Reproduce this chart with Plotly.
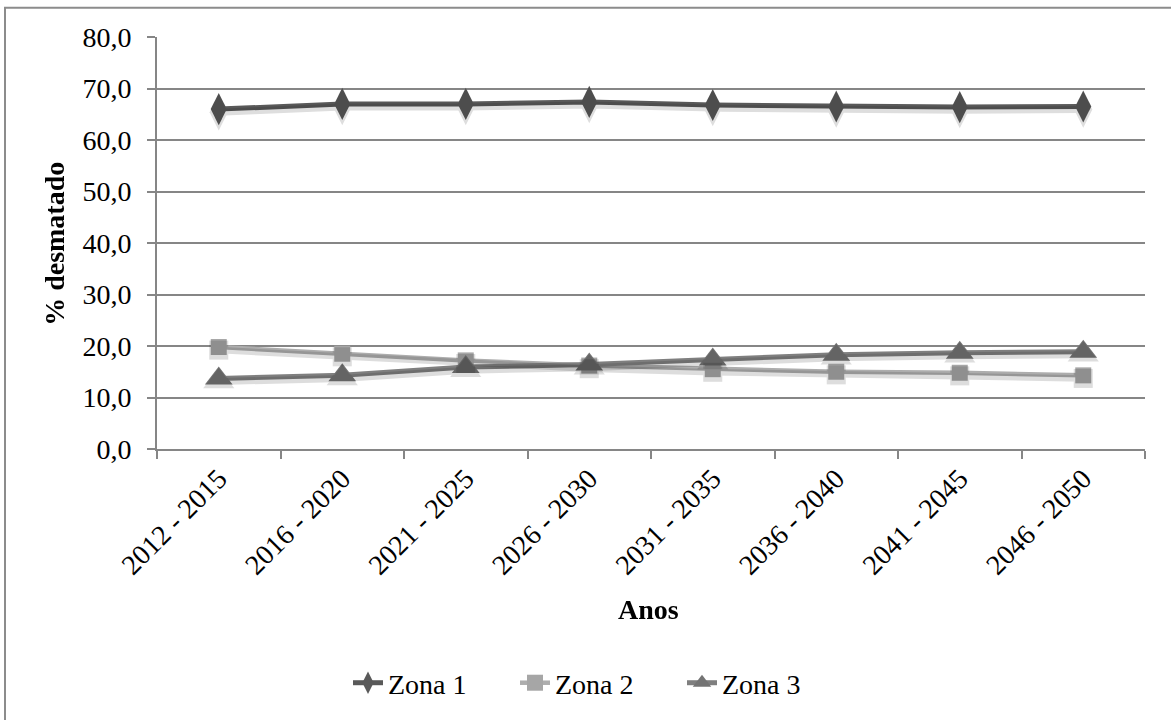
import plotly.graph_objects as go

# Períodos e percentagem de área desmatada por zona
periodos = ["2012 - 2015", "2016 - 2020", "2021 - 2025", "2026 - 2030",
            "2031 - 2035", "2036 - 2040", "2041 - 2045", "2046 - 2050"]
zona1 = [66.0, 67.0, 67.0, 67.4, 66.8, 66.5, 66.4, 66.5]
zona2 = [19.8, 18.5, 17.2, 16.2, 15.5, 15.0, 14.8, 14.3]
zona3 = [13.7, 14.3, 15.9, 16.4, 17.4, 18.3, 18.7, 18.9]
y_ticks = [0, 10, 20, 30, 40, 50, 60, 70, 80]
y_tick_text = ["0,0", "10,0", "20,0", "30,0", "40,0", "50,0", "60,0", "70,0", "80,0"]

FONT = "Liberation Serif"
GRID = "#868686"
Y_RANGE = [0, 80]
# small downward offset (in data units) for the soft drop shadow
SHADOW_DY = 0.6

series = [
    ("Zona 1", zona1, "#595959", "#595959", "diamond-tall", 23, 5),
    ("Zona 2", zona2, "#adadad", "#a6a6a6", "square", 16, 4.5),
    ("Zona 3", zona3, "#7f7f7f", "#747474", "triangle-up", 24, 5),
]

fig = go.Figure()

# drop shadows drawn on an overlaid axis whose range is shifted slightly
for name, vals, lc, mc, sym, ms, lw in series:
    fig.add_trace(go.Scatter(
        x=periodos, y=vals, mode="lines+markers", showlegend=False, hoverinfo="skip",
        yaxis="y2", opacity=0.13,
        line=dict(color="#000000", width=lw + 2),
        marker=dict(symbol=sym, size=ms + 3, color="#000000", line=dict(width=0)),
    ))

for name, vals, lc, mc, sym, ms, lw in series:
    fig.add_trace(go.Scatter(
        x=periodos, y=vals, name=name, mode="lines+markers",
        line=dict(color=lc, width=lw),
        marker=dict(symbol=sym, size=ms, color=mc, line=dict(width=0)),
    ))

fig.update_layout(
    width=1171, height=720,
    margin=dict(l=157, r=26, t=37, b=269),
    paper_bgcolor="white", plot_bgcolor="white",
    font=dict(family=FONT, size=28, color="black"),
    showlegend=True,
    legend=dict(orientation="h", x=(348 - 157) / 988, y=-0.568,
                xanchor="left", yanchor="middle",
                font=dict(family=FONT, size=28, color="black"),
                entrywidth=122, entrywidthmode="pixels", tracegroupgap=0),
    xaxis=dict(
        type="category", tickangle=-45, tickson="boundaries",
        showgrid=False, showline=True, linecolor=GRID, linewidth=2,
        ticks="outside", ticklen=8, tickcolor=GRID, tickwidth=2,
        tickfont=dict(family=FONT, size=28, color="black"),
        range=[-0.5, 7.5],
    ),
    yaxis=dict(
        range=Y_RANGE, tickvals=y_ticks, ticktext=y_tick_text,
        showgrid=True, gridcolor=GRID, gridwidth=2,
        showline=True, linecolor=GRID, linewidth=2,
        ticks="outside", ticklen=8, tickcolor=GRID, tickwidth=2,
        ticklabelstandoff=10,
        tickfont=dict(family=FONT, size=28, color="black"),
        zeroline=False,
    ),
    yaxis2=dict(
        overlaying="y", range=[Y_RANGE[0] + SHADOW_DY, Y_RANGE[1] + SHADOW_DY],
        visible=False, showgrid=False, zeroline=False,
    ),
    annotations=[
        dict(text="<b>Anos</b>", xref="paper", yref="paper", x=0.497, y=-0.389,
             showarrow=False, xanchor="center", yanchor="middle",
             font=dict(family=FONT, size=28, color="black")),
        dict(text="<b>% desmatado</b>", xref="paper", yref="paper", x=-0.1032, y=0.498,
             showarrow=False, xanchor="center", yanchor="middle", textangle=-90,
             font=dict(family=FONT, size=28, color="black")),
    ],
    shapes=[
        dict(type="rect", xref="paper", yref="paper",
             x0=(5 - 157) / 988, x1=(1180 - 157) / 988,
             y0=(451 - 730) / 414, y1=(451 - 7.5) / 414,
             line=dict(color="#8c8c8c", width=2), layer="below"),
    ],
)

fig.write_html("out.html")
